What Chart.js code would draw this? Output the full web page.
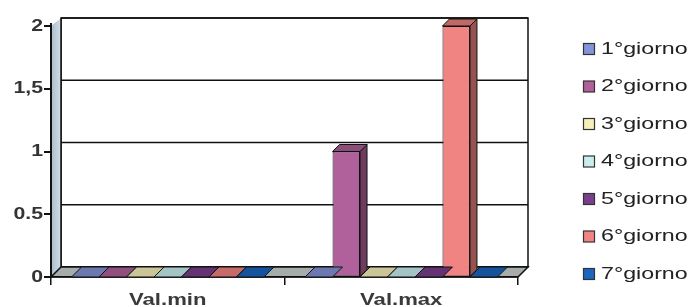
<!DOCTYPE html>
<html>
<head>
<meta charset="utf-8">
<script src="https://cdn.jsdelivr.net/npm/chart.js@4.4.0/dist/chart.umd.min.js"></script>
<style>
  html, body { margin: 0; padding: 0; background: #ffffff; }
  #wrap { width: 696px; height: 307px; }
</style>
</head>
<body>
<div id="wrap"><canvas id="c" width="696" height="307"></canvas></div>
<script>
// ---- data ----
const categories = ['Val.min', 'Val.max'];
const seriesNames = ['1°giorno', '2°giorno', '3°giorno', '4°giorno', '5°giorno', '6°giorno', '7°giorno'];
const giorno1 = [0, 0];
const giorno2 = [0, 1];
const giorno3 = [0, 0];
const giorno4 = [0, 0];
const giorno5 = [0, 0];
const giorno6 = [0, 2];
const giorno7 = [0, 0];
const yTickValues = [0, 0.5, 1, 1.5, 2];
const yTickLabels = ['0', '0.5', '1', '1,5', '2'];

// ---- styles ----
const seriesColors = ['#8494d8', '#b0609a', '#f5f0b8', '#c8eef0', '#7a3e8e', '#f08482', '#1a66c0'];
const WALL_DX = 10, WALL_DY = 10;   // depth of back wall / floor
const BAR_DX = 7, BAR_DY = 7;       // depth of bars
const AXIS_COLOR = '#111111';

function shade(hex, f) {
  const n = parseInt(hex.slice(1), 16);
  const r = Math.round(((n >> 16) & 255) * f), g = Math.round(((n >> 8) & 255) * f), b = Math.round((n & 255) * f);
  return 'rgb(' + Math.min(255, r) + ',' + Math.min(255, g) + ',' + Math.min(255, b) + ')';
}
function poly(ctx, pts, fill, stroke, lw) {
  ctx.beginPath();
  ctx.moveTo(pts[0][0], pts[0][1]);
  for (let i = 1; i < pts.length; i++) ctx.lineTo(pts[i][0], pts[i][1]);
  ctx.closePath();
  if (fill) { ctx.fillStyle = fill; ctx.fill(); }
  if (stroke) { ctx.strokeStyle = stroke; ctx.lineWidth = lw || 1; ctx.stroke(); }
}
function stretchedText(ctx, text, x, y, sx, font, align, baseline, color) {
  ctx.save();
  ctx.translate(x, y);
  ctx.scale(sx, 1);
  ctx.font = font;
  ctx.textAlign = align;
  ctx.textBaseline = baseline;
  ctx.fillStyle = color;
  ctx.fillText(text, 0, 0);
  ctx.restore();
}

const seriesData = [giorno1, giorno2, giorno3, giorno4, giorno5, giorno6, giorno7];

const threeD = {
  id: 'threeD',
  beforeDraw(chart) {
    const ctx = chart.ctx, a = chart.chartArea, y = chart.scales.y;
    ctx.save();
    // back wall
    poly(ctx, [[a.left + WALL_DX, a.top - WALL_DY + 2], [a.right + WALL_DX, a.top - WALL_DY + 2],
               [a.right + WALL_DX, a.bottom - WALL_DY], [a.left + WALL_DX, a.bottom - WALL_DY]], '#ffffff', '#111', 1.5);
    // gridlines on the back wall
    ctx.strokeStyle = '#111';
    ctx.lineWidth = 1.5;
    yTickValues.forEach(v => {
      const py = y.getPixelForValue(v) - WALL_DY + 2 * (v / 2);
      ctx.beginPath();
      ctx.moveTo(a.left + WALL_DX, py);
      ctx.lineTo(a.right + WALL_DX, py);
      ctx.stroke();
    });
    // side wall
    const grad = ctx.createLinearGradient(a.left, 0, a.left + WALL_DX, 0);
    grad.addColorStop(0, '#a9bccb');
    grad.addColorStop(1, '#d4dee6');
    poly(ctx, [[a.left, a.top], [a.left + WALL_DX, a.top - WALL_DY + 2],
               [a.left + WALL_DX, a.bottom - WALL_DY], [a.left, a.bottom]], grad, null);
    ctx.strokeStyle = '#111'; ctx.lineWidth = 1.5;
    ctx.beginPath(); ctx.moveTo(a.left + WALL_DX, a.top - WALL_DY + 2); ctx.lineTo(a.left + WALL_DX, a.bottom - WALL_DY); ctx.stroke();
    // floor
    poly(ctx, [[a.left, a.bottom], [a.right, a.bottom], [a.right + WALL_DX, a.bottom - WALL_DY],
               [a.left + WALL_DX, a.bottom - WALL_DY]], '#a6abab', '#111', 1.5);
    ctx.restore();
  },
  afterDatasetsDraw(chart) {
    const ctx = chart.ctx, a = chart.chartArea;
    ctx.save();
    // zero-height bars: coloured tiles on the floor
    chart.data.datasets.forEach((ds, i) => {
      const meta = chart.getDatasetMeta(i);
      meta.data.forEach((bar, j) => {
        if (ds.data[j] !== 0) return;
        const l = bar.x - bar.width / 2, r = bar.x + bar.width / 2, b = a.bottom;
        poly(ctx, [[l, b], [r, b], [r + WALL_DX, b - WALL_DY], [l + WALL_DX, b - WALL_DY]],
             shade(seriesColors[i], 0.82), '#111', 1);
      });
    });
    // raised bars: side and top faces
    chart.data.datasets.forEach((ds, i) => {
      const meta = chart.getDatasetMeta(i);
      meta.data.forEach((bar, j) => {
        if (ds.data[j] === 0) return;
        const l = bar.x - bar.width / 2, r = bar.x + bar.width / 2, t = bar.y, b = bar.base;
        poly(ctx, [[r, t], [r + BAR_DX, t - BAR_DY], [r + BAR_DX, b - BAR_DY], [r, b]], shade(seriesColors[i], 0.62), '#111', 1);
        poly(ctx, [[l, t], [r, t], [r + BAR_DX, t - BAR_DY], [l + BAR_DX, t - BAR_DY]], shade(seriesColors[i], 0.8), '#111', 1);
      });
    });
    ctx.restore();
  },
  afterDraw(chart) {
    const ctx = chart.ctx, a = chart.chartArea, x = chart.scales.x, y = chart.scales.y;
    // front value axis and its tick marks
    const ax = Math.round(a.left);
    ctx.save();
    ctx.fillStyle = AXIS_COLOR;
    ctx.fillRect(ax - 1, Math.round(a.top) - 3, 2, Math.round(a.bottom) - Math.round(a.top) + 4);
    yTickValues.forEach(v => {
      const py = Math.round(y.getPixelForValue(v));
      ctx.fillRect(ax - 7, py - 1, 7, 2);
    });
    ctx.restore();
    // value labels
    yTickValues.forEach((v, k) => {
      stretchedText(ctx, yTickLabels[k], ax - 8, y.getPixelForValue(v), 1.25,
                    'bold 17px "Liberation Sans", Arial, sans-serif', 'right', 'middle', '#333');
    });
    // category labels
    categories.forEach((c, k) => {
      stretchedText(ctx, c, x.getPixelForValue(k), a.bottom + 28, 1.3,
                    'bold 17px "Liberation Sans", Arial, sans-serif', 'center', 'alphabetic', '#3a3a3a');
    });
    // legend
    seriesNames.forEach((name, k) => {
      const cy = 49 + k * 37.5;
      ctx.save();
      ctx.fillStyle = seriesColors[k];
      ctx.fillRect(583.5, cy - 5.5, 11, 11);
      ctx.strokeStyle = '#333'; ctx.lineWidth = 1.2;
      ctx.strokeRect(583.5, cy - 5.5, 11, 11);
      ctx.restore();
      stretchedText(ctx, name, 601, cy + 0.5, 1.45, '16px "Liberation Sans", Arial, sans-serif', 'left', 'middle', '#222');
    });
  }
};

new Chart(document.getElementById('c'), {
  type: 'bar',
  data: {
    labels: categories,
    datasets: seriesNames.map((name, i) => ({
      label: name,
      data: seriesData[i],
      backgroundColor: seriesColors[i],
      borderColor: '#111',
      borderWidth: 1,
      borderSkipped: false,
      categoryPercentage: 0.824,
      barPercentage: 1.0
    }))
  },
  options: {
    responsive: false,
    devicePixelRatio: 1,
    animation: false,
    layout: { padding: { left: 0, top: 26, right: 178, bottom: 0 } },
    plugins: { legend: { display: false }, tooltip: { enabled: false } },
    scales: {
      x: {
        type: 'category',
        offset: true,
        grid: { offset: true, drawOnChartArea: false, drawTicks: true, tickLength: 8, color: '#111', lineWidth: 1.5 },
        border: { display: true, color: '#111', width: 1.5 },
        ticks: { display: false },
        afterFit(s) { s.height = 30; }
      },
      y: {
        min: 0, max: 2,
        ticks: { display: false, stepSize: 0.5 },
        grid: { drawOnChartArea: false, drawTicks: false },
        border: { display: false },
        afterFit(s) { s.width = 51; }
      }
    }
  },
  plugins: [threeD]
});
</script>
</body>
</html>
